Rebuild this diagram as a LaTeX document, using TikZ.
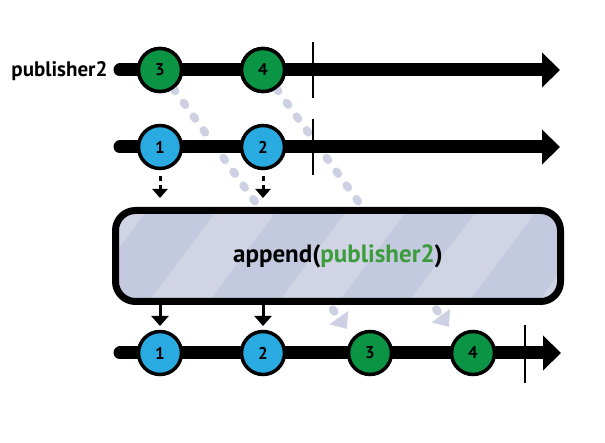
\documentclass[tikz,border=0pt]{standalone}
\usepackage{fontspec}
\setmainfont{PT Sans}
\usetikzlibrary{arrows.meta}
\definecolor{mgreen}{HTML}{0B9444}
\definecolor{mblue}{HTML}{29ABE2}
\definecolor{tgreen}{HTML}{3C9C3C}
\definecolor{boxfill}{HTML}{C3C9DE}
\definecolor{stripecol}{HTML}{D0D4E5}
\definecolor{dashcol}{HTML}{CDD1E3}
\begin{document}
\begin{tikzpicture}[x=1pt,y=-1pt,
  timeline/.style={line width=13pt, line cap=round, -{Triangle[width=34pt,length=18pt]}},
  marble/.style={circle, draw=black, line width=3.5pt, minimum size=43pt, inner sep=0pt, font=\fontsize{17}{17}\selectfont\bfseries},
  gmarble/.style={marble, fill=mgreen},
  bmarble/.style={marble, fill=mblue},
  tick/.style={line width=2pt},
  dashline/.style={draw=dashcol, line width=8pt, line cap=round, dash pattern=on 3pt off 14pt, -{Triangle[width=22pt,length=14pt,fill=dashcol]}},
  smallarr/.style={line width=3pt, dash pattern=on 5pt off 4pt, -{Triangle[width=15pt,length=9pt]}},
  smallarrb/.style={line width=3pt, -{Triangle[width=17pt,length=10pt]}},
  opbox/.style={draw=black, line width=7pt, rounded corners=20pt, fill=boxfill, minimum width=445pt, minimum height=91pt, font=\fontsize{25}{25}\selectfont\bfseries,
    path picture={\begin{scope}[shift={(path picture bounding box.center)}]
      \foreach \i in {-3,...,3} \fill[stripecol] (\i*130-100,60) -- ++(60,0) -- ++(90,-120) -- ++(-60,0) -- cycle;
    \end{scope}}},
  lbl/.style={font=\fontsize{21}{21}\selectfont\bfseries}
]
\useasboundingbox (0,0) rectangle (605,443);

% coordinates
\coordinate (r1s) at (120,70);  \coordinate (r1e) at (560,70);
\coordinate (r2s) at (120,147); \coordinate (r2e) at (560,147);
\coordinate (r3s) at (120,353); \coordinate (r3e) at (561,353);
\coordinate (d3end) at (347,329);
\coordinate (d4end) at (449,327);

% nodes (positioned first, drawn in proper order below)
\path (160,70) node[gmarble] (t3) {3};
\path (263,70) node[gmarble] (t4) {4};

% dashed connectors behind
\draw[dashline] (t3) -- (d3end);
\draw[dashline] (t4) -- (d4end);

% row 1
\draw[timeline] (r1s) -- (r1e);
\coordinate (k1a) at (313,42); \coordinate (k1b) at (313,98);
\draw[tick] (k1a) -- (k1b);
\node[gmarble] (t3) at (160,70) {3};
\node[gmarble] (t4) at (263,70) {4};
\node[lbl, anchor=east] (lab) at (111,71) {publisher2};

% row 2
\draw[timeline] (r2s) -- (r2e);
\coordinate (k2a) at (313,119); \coordinate (k2b) at (313,175);
\draw[tick] (k2a) -- (k2b);
\node[bmarble] (m1) at (160,147) {1};
\node[bmarble] (m2) at (263,147) {2};

% small arrows into box
\coordinate (a1s) at (160,176); \coordinate (a1e) at (160,198);
\coordinate (a2s) at (263,176); \coordinate (a2e) at (263,198);
\draw[smallarr] (a1s) -- (a1e);
\draw[smallarr] (a2s) -- (a2e);

% operator box
\node[opbox] (box) at (338,256) {append(\textcolor{tgreen}{publisher2})};

% small arrows out of box
\coordinate (b1e) at (160,326); \coordinate (b2e) at (263,326);
\draw[smallarrb] (box.south -| b1e) -- (b1e);
\draw[smallarrb] (box.south -| b2e) -- (b2e);

% row 3
\draw[timeline] (r3s) -- (r3e);
\coordinate (k3a) at (525,325); \coordinate (k3b) at (525,383);
\draw[tick] (k3a) -- (k3b);
\node[bmarble] (o1) at (160,353) {1};
\node[bmarble] (o2) at (263,353) {2};
\node[gmarble] (o3) at (370,353) {3};
\node[gmarble] (o4) at (473,353) {4};
\end{tikzpicture}
\end{document}
